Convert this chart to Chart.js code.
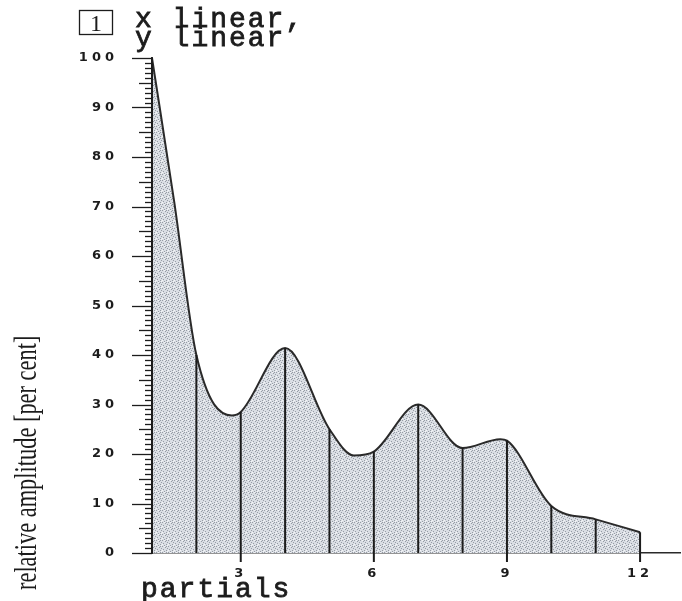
<!DOCTYPE html>
<html>
<head>
<meta charset="utf-8">
<script src="https://cdn.jsdelivr.net/npm/chart.js@4"></script>
<style>
  html, body { margin: 0; padding: 0; background: #fff; }
  #wrap { width: 682px; height: 601px; }
</style>
</head>
<body>
<div id="wrap"><canvas id="spectrum"></canvas></div>
<script>
// Partial numbers and their relative amplitudes (per cent)
const partials = [1, 2, 3, 4, 5, 6, 7, 8, 9, 10, 11, 12];
const amplitudes = [100, 40, 28.5, 41.4, 25, 20.5, 30, 21.2, 22.7, 9.5, 6.8, 4.2];

// Envelope points lying between partials (turning points etc.)
const betweenX = [1.5, 2.8, 5.55, 8.85];
const betweenY = [71, 27.8, 19.7, 23];

// Labelled ticks
const xTickValues = [3, 6, 9, 12];
const yTickValues = [0, 10, 20, 30, 40, 50, 60, 70, 80, 90, 100];

// envelope = partial tops + in-between points, in x order
const envelope = partials.map((p, i) => ({ x: p, y: amplitudes[i] }))
  .concat(betweenX.map((x, i) => ({ x: x, y: betweenY[i] })))
  .sort((a, b) => a.x - b.x);

// Stippled grey fill, like a screened print
function makeStipple() {
  const c = document.createElement('canvas');
  c.width = 6; c.height = 6;
  const g = c.getContext('2d');
  g.fillStyle = '#dadee4';
  g.fillRect(0, 0, 6, 6);
  g.fillStyle = '#969ca5';
  [[0, 0], [3, 1], [1, 3], [4, 4], [5, 2], [2, 5], [4, 0]].forEach(([x, y]) => g.fillRect(x, y, 1, 1));
  g.fillStyle = '#f4f5f7';
  [[2, 0], [5, 5], [0, 4]].forEach(([x, y]) => g.fillRect(x, y, 1, 1));
  return g.createPattern(c, 'repeat');
}

const ctx = document.getElementById('spectrum').getContext('2d');

// slightly heavier than the plain face, like old typewriter print
function inkText(c, text, x, y) {
  c.fillText(text, x, y);
  c.strokeText(text, x, y);
}

// Partial lines, tick marks and the typeset labels
const decorations = {
  id: 'decorations',
  beforeDraw(chart) {
    chart.ctx.letterSpacing = '4px';
  },
  afterDraw(chart) {
    const c = chart.ctx;
    const xs = chart.scales.x, ys = chart.scales.y;
    const y0 = ys.getPixelForValue(0);
    c.save();
    c.letterSpacing = '0px';
    c.strokeStyle = '#1c1c1c';

    // vertical line for each partial
    c.lineWidth = 2;
    partials.forEach((p, i) => {
      const x = xs.getPixelForValue(p);
      c.beginPath();
      c.moveTo(x, y0);
      c.lineTo(x, ys.getPixelForValue(amplitudes[i]));
      c.stroke();
    });

    // y tick marks: every 1, longer at 5, longest at 10
    c.lineWidth = 1.3;
    const left = xs.left;
    for (let v = 0; v <= 100; v++) {
      const len = v % 10 === 0 ? 20 : (v % 5 === 0 ? 13 : 7);
      const y = Math.round(ys.getPixelForValue(v)) + 0.5;
      c.beginPath();
      c.moveTo(left - len, y);
      c.lineTo(left, y);
      c.stroke();
    }

    // x tick marks below the axis
    c.lineWidth = 2;
    xTickValues.forEach(v => {
      const x = xs.getPixelForValue(v);
      c.beginPath();
      c.moveTo(x, y0);
      c.lineTo(x, y0 + 9);
      c.stroke();
    });

    // heading
    c.fillStyle = '#1c1c1c';
    c.lineWidth = 1.3;
    c.strokeRect(79.5, 10.5, 33, 24);
    c.font = '24px "Liberation Serif"';
    c.textBaseline = 'alphabetic';
    c.textAlign = 'center';
    c.fillText('1', 96, 31);
    c.textAlign = 'left';
    c.font = '28px "Liberation Mono"';
    c.letterSpacing = '2px';
    c.lineWidth = 0.8;
    inkText(c, 'x linear,', 135, 27);
    inkText(c, 'y linear', 135, 46);

    // x axis title
    inkText(c, 'partials', 141, 597);

    // y axis title, condensed and set vertically
    c.letterSpacing = '0px';
    c.translate(36, 590);
    c.rotate(-Math.PI / 2);
    c.scale(0.7, 1);
    c.font = '32px "Liberation Serif"';
    c.fillText('relative amplitude [per cent]', 0, 0);
    c.restore();
  }
};

const tickFont = { family: 'DejaVu Sans', size: 13, weight: 'bold' };

const spectrumChart = new Chart(ctx, {
  type: 'line',
  data: {
    datasets: [{
      data: envelope,
      fill: 'origin',
      backgroundColor: makeStipple(),
      borderColor: '#2a2a2a',
      borderWidth: 2,
      pointRadius: 0,
      cubicInterpolationMode: 'monotone'
    }]
  },
  options: {
    responsive: true,
    maintainAspectRatio: false,
    animation: false,
    layout: { padding: { top: 58, right: 2, left: 0, bottom: 0 } },
    plugins: { legend: { display: false }, tooltip: { enabled: false } },
    scales: {
      x: {
        type: 'linear',
        min: 1,
        max: 12.9,
        afterBuildTicks: s => { s.ticks = xTickValues.map(v => ({ value: v })); },
        afterFit: s => { s.height = 48; },
        grid: { display: false },
        border: { display: true, color: '#2a2a2a', width: 1.5 },
        ticks: { padding: 5, maxRotation: 0, color: '#1c1c1c', font: tickFont }
      },
      y: {
        min: 0,
        max: 100,
        afterBuildTicks: s => { s.ticks = yTickValues.map(v => ({ value: v })); },
        afterFit: s => { s.width = 152; },
        grid: { display: false },
        border: { display: true, color: '#2a2a2a', width: 2 },
        ticks: { padding: 26, color: '#1c1c1c', font: tickFont }
      }
    }
  },
  plugins: [decorations]
});
</script>
</body>
</html>
